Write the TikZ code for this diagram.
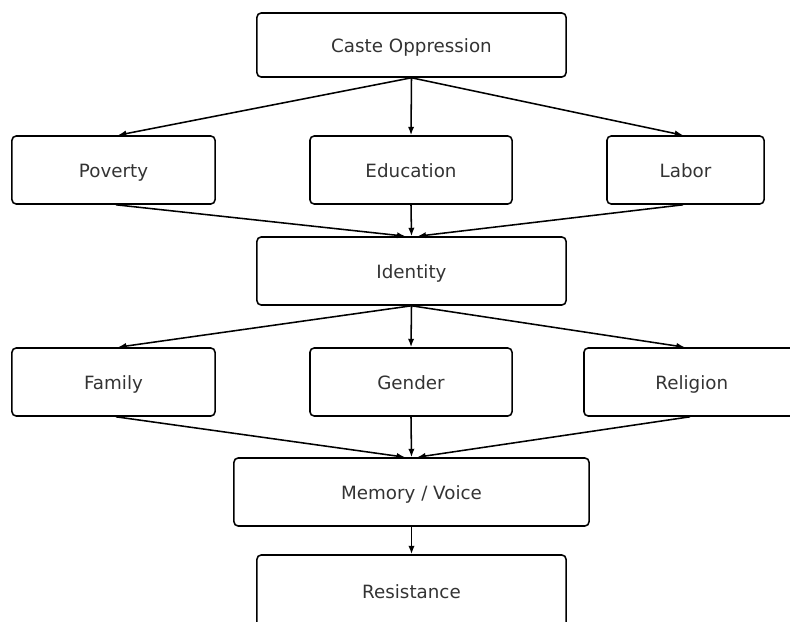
\documentclass[tikz,border=0pt]{standalone}
\usepackage{fontspec}
\setmainfont{DejaVu Sans}
\usetikzlibrary{arrows.meta}

\begin{document}
\begin{tikzpicture}[x=0.025cm,y=0.025cm,
  box/.style={draw,rounded corners=3pt,line width=1.1pt,text=black!80,
    font=\fontsize{13}{15}\selectfont,inner sep=0pt,minimum height=1.7cm,
    text height=11pt,text depth=1pt},
  arr/.style={-{Latex[length=6pt,width=4.5pt]},line width=1.1pt}]
  \useasboundingbox (0,0) rectangle (790,621);

  \node[box,minimum width=7.725cm,minimum height=1.6cm] (caste) at (411.5,576) {Caste Oppression};
  \node[box,minimum width=5.075cm] (poverty) at (113.5,451) {Poverty};
  \node[box,minimum width=5.05cm] (education) at (411,451) {Education};
  \node[box,minimum width=3.925cm] (labor) at (685.5,451) {Labor};
  \node[box,minimum width=7.725cm] (identity) at (411.5,350) {Identity};
  \node[box,minimum width=5.075cm] (family) at (113.5,239) {Family};
  \node[box,minimum width=5.05cm] (gender) at (411,239) {Gender};
  \node[box,minimum width=5.6cm] (religion) at (696,239) {\hspace*{-6pt}Religion};
  \node[box,minimum width=8.875cm] (memory) at (411.5,129) {Memory / Voice};
  \node[box,minimum width=7.725cm,minimum height=1.8cm] (resistance) at (411.5,30) {Resistance};

  \draw[arr] (caste.south) -- ([xshift=0.11cm]poverty.north);
  \draw[arr] (caste.south) -- (education.north);
  \draw[arr] (caste.south) -- ([xshift=-0.06cm]labor.north);

  \draw[arr] ([xshift=0.06cm]poverty.south) -- ([xshift=-0.15cm]identity.north);
  \draw[arr] (education.south) -- (identity.north);
  \draw[arr] ([xshift=-0.06cm]labor.south) -- ([xshift=0.15cm]identity.north);

  \draw[arr] (identity.south) -- ([xshift=0.11cm]family.north);
  \draw[arr] (identity.south) -- (gender.north);
  \draw[arr] (identity.south) -- ([xshift=-0.28cm]religion.north);

  \draw[arr] ([xshift=0.06cm]family.south) -- ([xshift=-0.16cm]memory.north);
  \draw[arr] (gender.south) -- (memory.north);
  \draw[arr] ([xshift=-0.15cm]religion.south) -- ([xshift=0.14cm]memory.north);

  \draw[arr] (memory.south) -- (resistance.north);
\end{tikzpicture}
\end{document}
